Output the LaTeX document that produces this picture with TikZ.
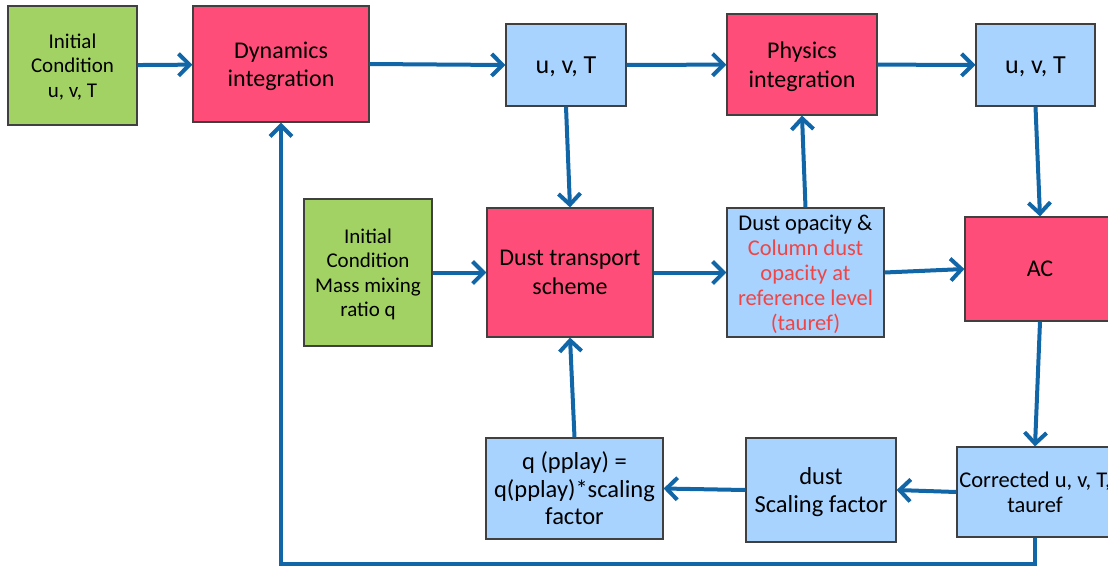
\documentclass[tikz,border=0pt]{standalone}
\usepackage{fontspec}
\setmainfont{Carlito}
\usetikzlibrary{arrows.meta}
\definecolor{boxgreen}{HTML}{A3D264}
\definecolor{boxred}{HTML}{FF4D79}
\definecolor{boxblue}{HTML}{A8D3FF}
\definecolor{flowblue}{HTML}{1166A8}
\definecolor{notered}{HTML}{EE4646}
\tikzset{
    box/.style = {rectangle, draw=black!75, line width=1.2pt, align=center, inner sep=0pt, text depth=0pt},
    greenbox/.style = {box, fill=boxgreen, font=\fontsize{21}{24.5}\selectfont},
    redbox/.style = {box, fill=boxred, font=\fontsize{24}{28.5}\selectfont},
    bluebox/.style = {box, fill=boxblue, font=\fontsize{24.5}{27.5}\selectfont},
    uvtbox/.style = {box, fill=boxblue, font=\fontsize{26}{30}\selectfont},
    smallblue/.style = {box, fill=boxblue, font=\fontsize{22.5}{25}\selectfont},
    flow/.style = {-{Straight Barb[length=11pt,width=22pt,line width=4pt]}, line width=4pt, flowblue},
    feedback/.style = {flow, rounded corners=0pt}
}

\begin{document}
\begin{tikzpicture}[x=1pt,y=-1pt]
\useasboundingbox (0,0) rectangle (1108,566);
\clip (0,0) rectangle (1108,566);

% top row
\node[greenbox, minimum width=129pt, minimum height=119pt] (icuvt) at (72.5,65.5) {Initial\\Condition\\u, v, T};
\node[redbox, minimum width=176pt, minimum height=116pt] (dyn) at (281,64) {Dynamics\\integration};
\node[uvtbox, minimum width=120pt, minimum height=82pt] (uvta) at (566,65) {u, v, T};
\node[redbox, minimum width=150pt, minimum height=101pt] (phys) at (802,64.5) {Physics\\integration};
\node[uvtbox, minimum width=119pt, minimum height=82pt] (uvtb) at (1035.5,65) {u, v, T};

% middle row
\node[greenbox, minimum width=128pt, minimum height=147pt] (icq) at (368,272.5) {Initial\\Condition\\Mass mixing\\ratio q};
\node[redbox, minimum width=166pt, minimum height=129pt] (dts) at (570,272.5) {Dust transport\\scheme};
\node[smallblue, minimum width=157pt, minimum height=129pt] (opac) at (805.5,272.5)
  {Dust opacity \&\\\textcolor{notered}{Column dust}\\\textcolor{notered}{opacity at}\\\textcolor{notered}{reference level}\\\textcolor{notered}{(tauref)}};
\node[redbox, minimum width=150pt, minimum height=104pt] (ac) at (1040,269) {AC};

% bottom row
\node[smallblue, minimum width=156pt, minimum height=90pt] (corr) at (1035,492) {Corrected u, v, T,\\tauref};
\node[bluebox, minimum width=150pt, minimum height=104pt] (scal) at (821,490) {dust\\Scaling factor};
\node[bluebox, minimum width=177pt, minimum height=101pt] (qbox) at (574.5,488.5) {q (pplay) =\\q(pplay)*scaling\\factor};

\draw[flow] (icuvt) -- (dyn);
\draw[flow] (dyn.east) -- (uvta.west);
\draw[flow] (uvta) -- (phys);
\draw[flow] (phys) -- (uvtb);
\draw[flow] (uvta.south) -- (dts.north);
\draw[flow] (opac.north) -- (phys.south);
\draw[flow] (uvtb.south) -- (ac.north);
\draw[flow] (icq) -- (dts);
\draw[flow] (dts) -- (opac);
\draw[flow] (opac.east) -- (ac.west);
\draw[flow] (ac.south) -- (corr.north);
\draw[flow] (corr.west) -- (scal.east);
\draw[flow] (scal.west) -- (qbox.east);
\draw[flow] (qbox.north) -- (dts.south);
\draw[feedback] (corr.south) -- ++(0,26) -| (dyn.south);
\end{tikzpicture}
\end{document}
